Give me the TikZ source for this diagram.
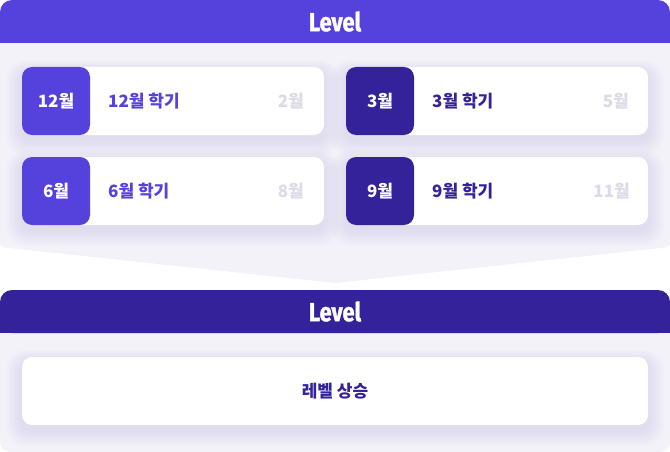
\documentclass[tikz,border=0pt]{standalone}
\usepackage{fontspec}
\usepackage{graphicx}
\setmainfont{Noto Sans CJK KR}
\newfontfamily\lvlfont[BoldFeatures={FakeBold=1.5}]{Fira Sans}
\definecolor{violetA}{HTML}{5541DB}
\definecolor{violetB}{HTML}{33229A}
\definecolor{panelbg}{HTML}{F3F2F9}
\definecolor{glowc}{HTML}{CFC9EE}
\definecolor{greytxt}{HTML}{DCDAE6}
\tikzset{
  hdrbox/.style={rounded corners=12pt, minimum width=670pt, minimum height=43pt, inner sep=0pt},
  hdrtxt/.style={inner sep=0pt, text=white, font=\lvlfont\bfseries\fontsize{26}{26}\selectfont},
  cardbox/.style={fill=white, rounded corners=10pt, minimum height=68pt, inner sep=0pt},
  numbox/.style={rounded corners=10pt, minimum width=68pt, minimum height=68pt, inner sep=0pt,
    text=white, font=\bfseries\fontsize{17}{17}\selectfont},
  semtxt/.style={anchor=west, inner sep=0pt, font=\bfseries\fontsize{17}{17}\selectfont},
  endtxt/.style={anchor=east, inner sep=0pt, text=greytxt, font=\bfseries\fontsize{17}{17}\selectfont},
}
\newcommand{\glowat}[4]{%
  \foreach \g in {1,...,10}{
    \fill[glowc, opacity=0.05, rounded corners=10pt+\g pt]
      ($(#1,#2)+(-\g*1.6,-\g*1.2+5)$) rectangle ($(#3,#4)+(\g*1.6,\g*1.6+5)$);
  }}
\usetikzlibrary{calc}
\begin{document}
\begin{tikzpicture}[x=1pt,y=-1pt]
\useasboundingbox (0,0) rectangle (670,452);
% top panel with chevron
\fill[panelbg] (0,43) -- (0,238) .. controls (0,247) .. (9,248) -- (335,283)
  -- (661,248) .. controls (670,247) .. (670,238) -- (670,43) -- cycle;
% bottom panel
\fill[panelbg, rounded corners=10pt] (0,320) rectangle (670,452);
% glows
\glowat{22}{67}{324}{135}
\glowat{346}{67}{648}{135}
\glowat{22}{157}{324}{225}
\glowat{346}{157}{648}{225}
\glowat{22}{357}{648}{425}
% headers
\node[hdrbox, fill=violetA] (h1) at (335,21.5) {};
\fill[violetA] (h1.west) rectangle (h1.south east);
\node[hdrtxt] (t1) at (h1.center) {\scalebox{0.84}[1]{Level}};
\node[hdrbox, fill=violetB] (h2) at (335,311.5) {};
\fill[violetB] (h2.west) rectangle (h2.south east);
\node[hdrtxt] (t2) at (h2.center) {\scalebox{0.84}[1]{Level}};
% cards
\node[cardbox, minimum width=302pt] (c1) at (173,101) {};
\node[cardbox, minimum width=302pt] (c2) at (497,101) {};
\node[cardbox, minimum width=302pt] (c3) at (173,191) {};
\node[cardbox, minimum width=302pt] (c4) at (497,191) {};
\node[numbox, fill=violetA] (n1) at (56,101) {12월};
\node[numbox, fill=violetB] (n2) at (380,101) {3월};
\node[numbox, fill=violetA] (n3) at (56,191) {6월};
\node[numbox, fill=violetB] (n4) at (380,191) {9월};
\node[semtxt, text=violetA] (s1) at (108,101) {12월 학기};
\node[semtxt, text=violetB] (s2) at (432,101) {3월 학기};
\node[semtxt, text=violetA] (s3) at (108,191) {6월 학기};
\node[semtxt, text=violetB] (s4) at (432,191) {9월 학기};
\node[endtxt] (e1) at (304,101) {2월};
\node[endtxt] (e2) at (629,101) {5월};
\node[endtxt] (e3) at (304,191) {8월};
\node[endtxt] (e4) at (630,191) {11월};
% bottom card
\node[cardbox, minimum width=626pt, text=violetB, font=\bfseries\fontsize{17}{17}\selectfont] (lv) at (335,391) {레벨 상승};
\end{tikzpicture}
\end{document}
